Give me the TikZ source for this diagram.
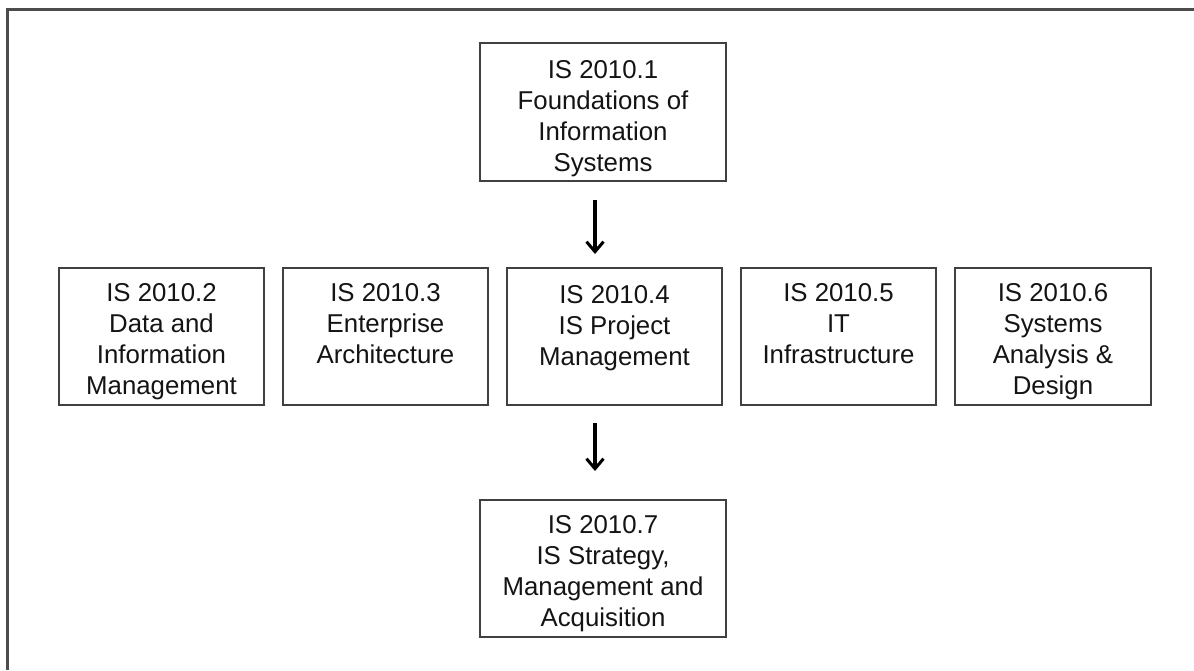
\documentclass[tikz,border=0pt]{standalone}
\usepackage{fontspec}
\setmainfont{Liberation Sans}
\usetikzlibrary{arrows.meta}
\definecolor{framegray}{HTML}{4C4C4C}
\definecolor{boxgray}{HTML}{404040}
\definecolor{inkgray}{HTML}{141414}
% box content: width, height, gap above the first line, centred lines
\newcommand\coursebox[4]{\parbox[c][#2][t]{#1}{\vspace*{#3}\centering #4\par}}
\tikzset{
  course/.style={draw=boxgray, line width=2.1pt, inner sep=0pt, outer sep=0pt,
    text=inkgray, font=\fontsize{25.8}{31}\selectfont},
  flow/.style={draw=black, line width=3.2pt,
    -{Straight Barb[length=10pt,width=17pt,line width=3pt]}},
}
\begin{document}
\begin{tikzpicture}[x=1pt,y=-1pt]
\useasboundingbox (0,0) rectangle (1194,670);
\fill[white] (0,0) rectangle (1194,670);
% outer frame: top and left edges only
\draw[framegray, line width=2.4pt] (7.5,670) -- (7.5,9.5) -- (1194,9.5);

% top course
\node[course] (c1) at (603,112) {\coursebox{246pt}{138pt}{17pt}{IS 2010.1\\Foundations of\\Information\\Systems}};

% middle row
\node[course] (c2) at (161.5,336.5) {\coursebox{205pt}{137pt}{15pt}{IS 2010.2\\Data and\\Information\\Management}};
\node[course] (c3) at (385.5,336.5) {\coursebox{205pt}{137pt}{15pt}{IS 2010.3\\Enterprise\\Architecture}};
\node[course] (c4) at (614.5,336.5) {\coursebox{215pt}{137pt}{17pt}{IS 2010.4\\IS Project\\Management}};
\node[course] (c5) at (838.5,336.5) {\coursebox{195pt}{137pt}{15pt}{IS 2010.5\\IT\\Infrastructure}};
\node[course] (c6) at (1053,336.5) {\coursebox{196pt}{137pt}{15pt}{IS 2010.6\\Systems\\Analysis \&\\Design}};

% bottom course
\node[course] (c7) at (603,568.5) {\coursebox{246pt}{137pt}{15pt}{IS 2010.7\\IS Strategy,\\Management and\\Acquisition}};

% arrow anchors
\coordinate (a1s) at (595,200);
\coordinate (a1e) at (595,254);
\coordinate (a2s) at (595,423);
\coordinate (a2e) at (595,471);
\draw[flow] (a1s) -- (a1e);
\draw[flow] (a2s) -- (a2e);
\end{tikzpicture}
\end{document}
